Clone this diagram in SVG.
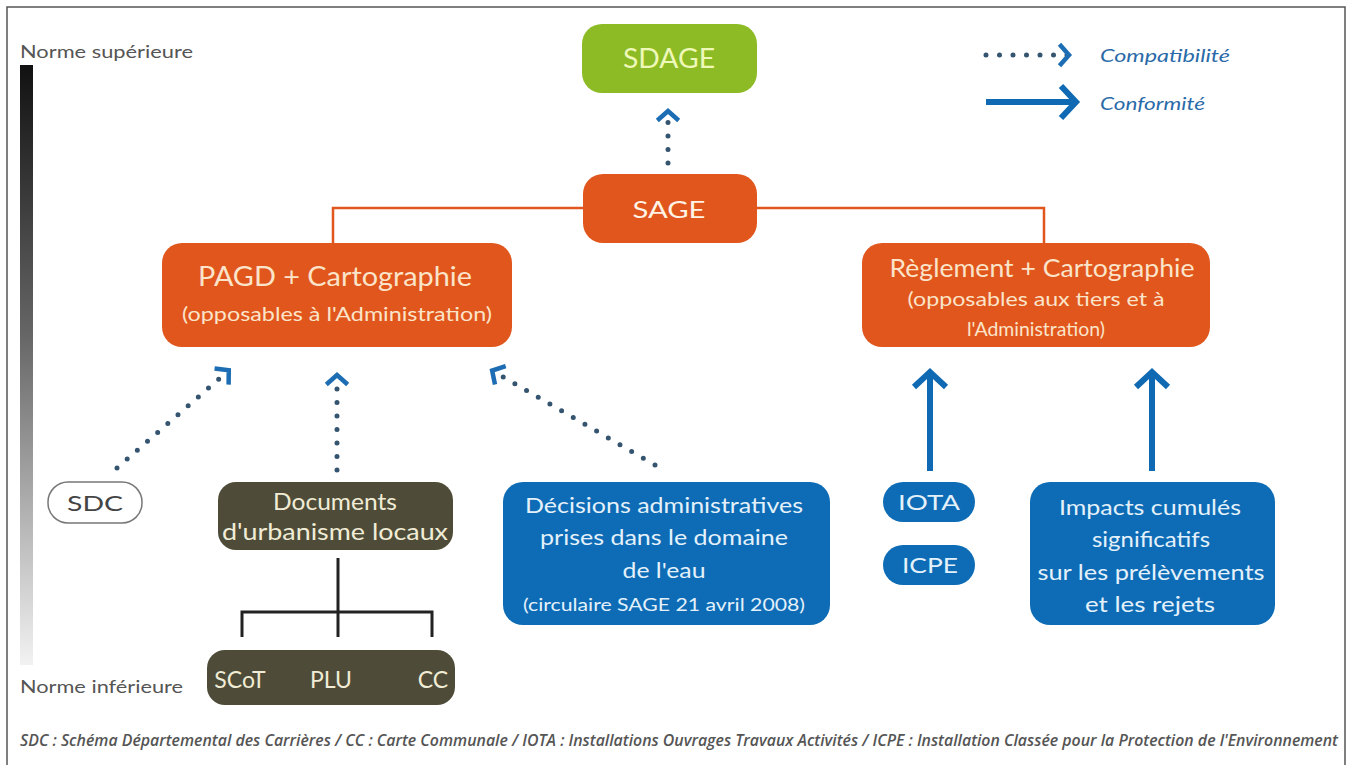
<svg xmlns="http://www.w3.org/2000/svg" width="1349" height="765" viewBox="0 0 1349 765">
<defs>
<style>
.t{font-family:Lato,"Open Sans","Liberation Sans",sans-serif;text-anchor:middle}
.or{fill:#e0561d}
.bl{fill:#0d6cb5}
.ol{fill:#4e4c39}
.tor{fill:#fbe4c9}
.tbl{fill:#e4f1fb}
.tol{fill:#f1ecd6}
.dot{stroke:#34546f;stroke-width:5;stroke-linecap:round;stroke-dasharray:0 13.5;fill:none}
.sol{stroke:#0f6ab3;stroke-width:6;fill:none}
.tree{stroke:#222;stroke-width:3;fill:none}
.orl{stroke:#e0561d;stroke-width:2.5;fill:none}
.side{font-family:Lato,"Liberation Sans",sans-serif;font-size:18px;fill:#555}
.leg{font-family:Lato,"Liberation Sans",sans-serif;font-size:18px;font-style:italic;fill:#2a6aa8}
</style>
<linearGradient id="bar" x1="0" y1="0" x2="0" y2="1">
<stop offset="0" stop-color="#111"/>
<stop offset="0.45" stop-color="#666"/>
<stop offset="1" stop-color="#f2f2f2"/>
</linearGradient>
<marker id="chev" viewBox="-14 -14 28 28" refX="0" refY="0" markerUnits="userSpaceOnUse" markerWidth="28" markerHeight="28" orient="auto">
<path d="M-7,-9 L1,0 L-7,9" fill="none" stroke="#1c6db3" stroke-width="4.5" stroke-linecap="square"/>
</marker>
<marker id="chevS" viewBox="-20 -20 40 40" refX="0" refY="0" markerUnits="userSpaceOnUse" markerWidth="40" markerHeight="40" orient="auto">
<path d="M-15,-16 L0,0 L-15,16" fill="none" stroke="#0f6ab3" stroke-width="6"/>
</marker>
</defs>
<rect x="0" y="0" width="1349" height="765" fill="#fff"/>
<rect x="7" y="7" width="1338" height="770" fill="none" stroke="#555" stroke-width="1.5"/>
<rect x="20" y="65" width="13" height="600" fill="url(#bar)"/>
<text x="20" y="58" class="side" textLength="173" lengthAdjust="spacingAndGlyphs">Norme supérieure</text>
<text x="20" y="693" class="side" textLength="163" lengthAdjust="spacingAndGlyphs">Norme inférieure</text>

<g id="legend">
<line x1="986" y1="55" x2="1068" y2="55" class="dot" marker-end="url(#chev)"/>
<text x="1100" y="62" class="leg" textLength="130" lengthAdjust="spacingAndGlyphs">Compatibilité</text>
<line x1="986" y1="102" x2="1076" y2="102" class="sol" marker-end="url(#chevS)"/>
<text x="1100" y="110" class="leg" textLength="105" lengthAdjust="spacingAndGlyphs">Conformité</text>
</g>

<g id="connectors">
<polyline points="583,208 333,208 333,243" class="orl"/>
<polyline points="757,208 1044,208 1044,243" class="orl"/>
<line x1="668" y1="163" x2="668" y2="112" class="dot" marker-end="url(#chev)"/>
<line x1="117" y1="468" x2="228" y2="371" class="dot" marker-end="url(#chev)"/>
<line x1="337" y1="470" x2="337" y2="376" class="dot" marker-end="url(#chev)"/>
<line x1="655" y1="465" x2="493" y2="371" class="dot" marker-end="url(#chev)"/>
<line x1="930" y1="471" x2="930" y2="372" class="sol" marker-end="url(#chevS)"/>
<line x1="1152" y1="471" x2="1152" y2="372" class="sol" marker-end="url(#chevS)"/>
<path d="M338,558 V612 M242,637 V612 H432 V637 M338,612 V637" class="tree"/>
</g>

<g id="sdage">
<rect x="582" y="24" width="175" height="69" rx="20" fill="#8dbb25"/>
<text x="669" y="68" class="t" font-size="26" fill="#eef8b8" textLength="92" lengthAdjust="spacingAndGlyphs">SDAGE</text>
</g>
<g id="sage">
<rect x="583" y="174" width="174" height="69" rx="20" class="or"/>
<text x="669" y="218" class="t" font-size="24" fill="#fff3e6" textLength="73" lengthAdjust="spacingAndGlyphs">SAGE</text>
</g>
<g id="pagd">
<rect x="162" y="243" width="350" height="104" rx="20" class="or"/>
<text x="335" y="286" class="t tor" font-size="26" textLength="274" lengthAdjust="spacingAndGlyphs">PAGD + Cartographie</text>
<text x="337" y="321" class="t tor" font-size="20" textLength="310" lengthAdjust="spacingAndGlyphs">(opposables à l'Administration)</text>
</g>
<g id="reglement">
<rect x="862" y="243" width="348" height="104" rx="20" class="or"/>
<text x="1042" y="277" class="t tor" font-size="25" textLength="305" lengthAdjust="spacingAndGlyphs">Règlement + Cartographie</text>
<text x="1036" y="306" class="t tor" font-size="20" textLength="257" lengthAdjust="spacingAndGlyphs">(opposables aux tiers et à</text>
<text x="1036" y="336" class="t tor" font-size="20" textLength="138" lengthAdjust="spacingAndGlyphs">l'Administration)</text>
</g>
<g id="sdc">
<rect x="48" y="482" width="94" height="41" rx="20" fill="#fff" stroke="#777" stroke-width="1.5"/>
<text x="95" y="511" class="t" font-size="22" fill="#444" textLength="56" lengthAdjust="spacingAndGlyphs">SDC</text>
</g>
<g id="documents">
<rect x="218" y="482" width="235" height="68" rx="18" class="ol"/>
<text x="335" y="510" class="t tol" font-size="23" textLength="124" lengthAdjust="spacingAndGlyphs">Documents</text>
<text x="335" y="540" class="t tol" font-size="23" textLength="226" lengthAdjust="spacingAndGlyphs">d'urbanisme locaux</text>
</g>
<g id="scot">
<rect x="207" y="650" width="248" height="55" rx="18" class="ol"/>
<text x="240" y="688" class="t tol" font-size="23">SCoT</text>
<text x="331" y="688" class="t tol" font-size="23">PLU</text>
<text x="433" y="688" class="t tol" font-size="23">CC</text>
</g>
<g id="decisions">
<rect x="503" y="482" width="327" height="143" rx="20" class="bl"/>
<text x="664" y="513" class="t tbl" font-size="22" textLength="278" lengthAdjust="spacingAndGlyphs">Décisions administratives</text>
<text x="664" y="545" class="t tbl" font-size="22" textLength="248" lengthAdjust="spacingAndGlyphs">prises dans le domaine</text>
<text x="664" y="578" class="t tbl" font-size="22" textLength="83" lengthAdjust="spacingAndGlyphs">de l'eau</text>
<text x="664" y="611" class="t tbl" font-size="17" textLength="282" lengthAdjust="spacingAndGlyphs">(circulaire SAGE 21 avril 2008)</text>
</g>
<g id="iota">
<rect x="883" y="482" width="92" height="40" rx="20" class="bl"/>
<text x="929" y="510" class="t tbl" font-size="22" textLength="62" lengthAdjust="spacingAndGlyphs">IOTA</text>
</g>
<g id="icpe">
<rect x="883" y="545" width="92" height="40" rx="20" class="bl"/>
<text x="930" y="573" class="t tbl" font-size="22" textLength="56" lengthAdjust="spacingAndGlyphs">ICPE</text>
</g>
<g id="impacts">
<rect x="1030" y="482" width="245" height="143" rx="20" class="bl"/>
<text x="1150" y="515" class="t tbl" font-size="22" textLength="182" lengthAdjust="spacingAndGlyphs">Impacts cumulés</text>
<text x="1151" y="547" class="t tbl" font-size="22" textLength="118" lengthAdjust="spacingAndGlyphs">significatifs</text>
<text x="1151" y="580" class="t tbl" font-size="22" textLength="227" lengthAdjust="spacingAndGlyphs">sur les prélèvements</text>
<text x="1150" y="612" class="t tbl" font-size="22" textLength="130" lengthAdjust="spacingAndGlyphs">et les rejets</text>
</g>
<text x="20" y="746" font-family="'Open Sans',Lato,'Liberation Sans',sans-serif" font-size="16" font-style="italic" font-weight="600" fill="#555" textLength="1318" lengthAdjust="spacingAndGlyphs">SDC : Schéma Départemental des Carrières / CC : Carte Communale / IOTA : Installations Ouvrages Travaux Activités / ICPE : Installation Classée pour la Protection de l'Environnement</text>
</svg>
